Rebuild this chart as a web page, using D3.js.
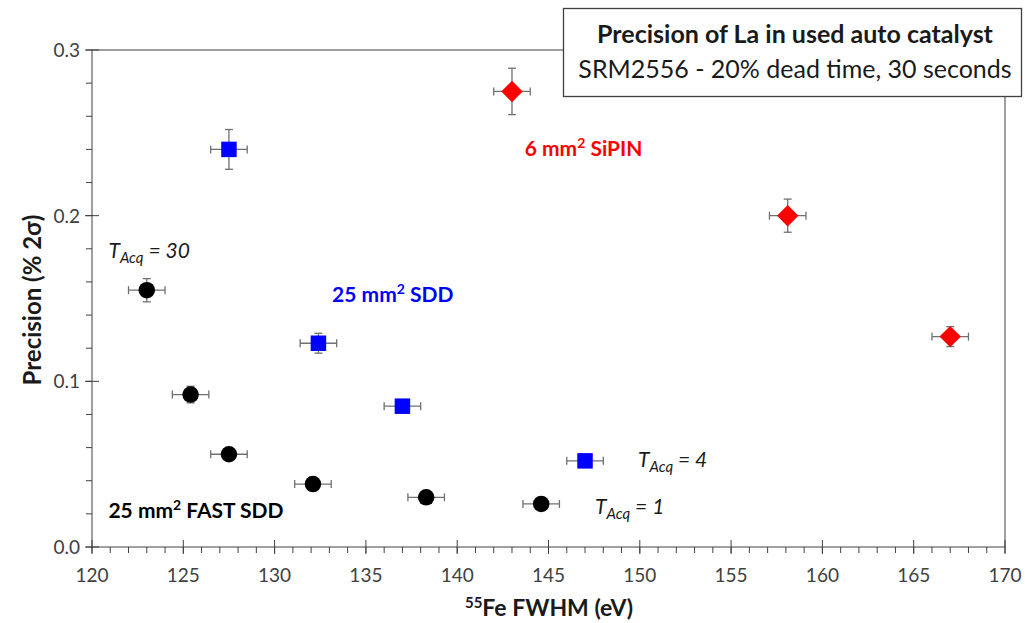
<!DOCTYPE html>
<html lang="en">
<head>
    <meta charset="UTF-8">
    <script src="https://d3js.org/d3.v7.min.js"></script>
    <title>Precision of La</title>
    <style>
        body { margin: 0; background: #fff; font-family: Lato, "Open Sans", sans-serif; }
        svg text { font-family: Lato, "Open Sans", sans-serif; }
    </style>
</head>
<body>
    <svg id="chart" width="1025" height="623"></svg>
    <script>
        // Data
        const fastSddX = [123.0, 125.4, 127.5, 132.1, 138.3, 144.6];
        const fastSddY = [0.155, 0.092, 0.056, 0.038, 0.030, 0.026];
        const fastSddErrX = [1.0, 1.0, 1.0, 1.0, 1.0, 1.0];
        const fastSddErrY = [0.007, 0.005, 0.003, 0.002, 0.002, 0.002];

        const sddX = [127.5, 132.4, 137.0, 147.0];
        const sddY = [0.240, 0.123, 0.085, 0.052];
        const sddErrX = [1.0, 1.0, 1.0, 1.0];
        const sddErrY = [0.012, 0.006, 0.003, 0.002];

        const sipinX = [143.0, 158.1, 167.0];
        const sipinY = [0.275, 0.200, 0.127];
        const sipinErrX = [1.0, 1.0, 1.0];
        const sipinErrY = [0.014, 0.010, 0.006];

        const xTicks = [120, 125, 130, 135, 140, 145, 150, 155, 160, 165, 170];
        const yTicks = [0.0, 0.1, 0.2, 0.3];

        const svg = d3.select("#chart");
        const plotL = 92, plotR = 1005, plotT = 50, plotB = 547;

        const x = d3.scaleLinear().domain([120, 170]).range([plotL, plotR]);
        const y = d3.scaleLinear().domain([0, 0.3]).range([plotB, plotT]);

        const axisColor = "#404040";

        // plot frame
        svg.append("rect")
            .attr("x", plotL).attr("y", plotT)
            .attr("width", plotR - plotL).attr("height", plotB - plotT)
            .attr("fill", "none").attr("stroke", axisColor).attr("stroke-width", 1);

        // x axis: major ticks cross, minor ticks below
        const xAxis = svg.append("g").attr("transform", `translate(0,${plotB})`);
        xAxis.selectAll("line.minor")
            .data(d3.range(120, 171, 1))
            .enter().append("line")
            .attr("x1", d => x(d)).attr("x2", d => x(d))
            .attr("y1", 0).attr("y2", 6)
            .attr("stroke", axisColor);
        xAxis.selectAll("line.major")
            .data(xTicks)
            .enter().append("line")
            .attr("x1", d => x(d)).attr("x2", d => x(d))
            .attr("y1", -7).attr("y2", 7)
            .attr("stroke", axisColor);
        xAxis.selectAll("text")
            .data(xTicks)
            .enter().append("text")
            .attr("x", d => x(d)).attr("y", 35)
            .attr("text-anchor", "middle")
            .attr("font-size", 19).attr("fill", axisColor)
            .text(d => d);

        // y axis: major ticks cross, minor ticks left
        const yAxis = svg.append("g").attr("transform", `translate(${plotL},0)`);
        yAxis.selectAll("line.minor")
            .data(d3.range(0, 16).map(i => i * 0.02))
            .enter().append("line")
            .attr("x1", -6).attr("x2", 0)
            .attr("y1", d => y(d)).attr("y2", d => y(d))
            .attr("stroke", axisColor);
        yAxis.selectAll("line.major")
            .data(yTicks)
            .enter().append("line")
            .attr("x1", -7).attr("x2", 7)
            .attr("y1", d => y(d)).attr("y2", d => y(d))
            .attr("stroke", axisColor);
        yAxis.selectAll("text")
            .data(yTicks)
            .enter().append("text")
            .attr("x", -12).attr("y", d => y(d) + 7)
            .attr("text-anchor", "end")
            .attr("font-size", 19).attr("fill", axisColor)
            .text(d => d.toFixed(1));

        // axis titles
        const xt = svg.append("text")
            .attr("x", 549).attr("y", 616)
            .attr("text-anchor", "middle")
            .attr("font-size", 23).attr("font-weight", "bold").attr("fill", "#1a1a1a");
        xt.append("tspan").attr("font-size", 15).attr("dy", -8).text("55");
        xt.append("tspan").attr("dy", 8).text("Fe FWHM (eV)");

        svg.append("text")
            .attr("transform", "translate(41,300) rotate(-90)")
            .attr("text-anchor", "middle")
            .attr("font-size", 24).attr("font-weight", "bold").attr("fill", "#1a1a1a")
            .text("Precision (% 2σ)");

        // error bars + markers
        const errColor = "#707070";
        const cap = 4;
        function drawSeries(xs, ys, exs, eys, shape, color) {
            const pts = xs.map((d, i) => ({ x: d, y: ys[i], ex: exs[i], ey: eys[i] }));
            const g = svg.append("g");
            const eb = g.selectAll("g.err").data(pts).enter().append("g")
                .attr("stroke", errColor).attr("stroke-width", 1.3);
            eb.append("line")
                .attr("x1", d => x(d.x - d.ex)).attr("x2", d => x(d.x + d.ex))
                .attr("y1", d => y(d.y)).attr("y2", d => y(d.y));
            eb.append("line")
                .attr("x1", d => x(d.x - d.ex)).attr("x2", d => x(d.x - d.ex))
                .attr("y1", d => y(d.y) - cap).attr("y2", d => y(d.y) + cap);
            eb.append("line")
                .attr("x1", d => x(d.x + d.ex)).attr("x2", d => x(d.x + d.ex))
                .attr("y1", d => y(d.y) - cap).attr("y2", d => y(d.y) + cap);
            eb.append("line")
                .attr("x1", d => x(d.x)).attr("x2", d => x(d.x))
                .attr("y1", d => y(d.y + d.ey)).attr("y2", d => y(d.y - d.ey));
            eb.append("line")
                .attr("x1", d => x(d.x) - cap).attr("x2", d => x(d.x) + cap)
                .attr("y1", d => y(d.y + d.ey)).attr("y2", d => y(d.y + d.ey));
            eb.append("line")
                .attr("x1", d => x(d.x) - cap).attr("x2", d => x(d.x) + cap)
                .attr("y1", d => y(d.y - d.ey)).attr("y2", d => y(d.y - d.ey));
            g.selectAll("path.mk").data(pts).enter().append("path")
                .attr("d", d3.symbol().type(shape.type).size(shape.size))
                .attr("transform", d => `translate(${x(d.x)},${y(d.y)})` + (shape.rotate ? " rotate(45)" : ""))
                .attr("fill", color);
        }
        drawSeries(fastSddX, fastSddY, fastSddErrX, fastSddErrY, { type: d3.symbolCircle, size: 215 }, "#000000");
        drawSeries(sddX, sddY, sddErrX, sddErrY, { type: d3.symbolSquare, size: 240 }, "#0000ff");
        drawSeries(sipinX, sipinY, sipinErrX, sipinErrY, { type: d3.symbolSquare, size: 230, rotate: true }, "#ff0000");

        // annotations
        function tacq(xv, yv, val) {
            const t = svg.append("text")
                .attr("x", x(xv)).attr("y", y(yv))
                .attr("font-size", 21).attr("font-style", "italic").attr("fill", "#1a1a1a");
            t.append("tspan").text("T");
            t.append("tspan").attr("font-size", 15).attr("dy", 5).text("Acq");
            t.append("tspan").attr("dy", -5).text(" = " + val);
        }
        tacq(120.9, 0.1745, 30);
        tacq(149.9, 0.0483, 4);
        tacq(147.55, 0.020, 1);

        function label(xv, yv, pre, post, color) {
            const t = svg.append("text")
                .attr("x", x(xv)).attr("y", y(yv))
                .attr("font-size", 21).attr("font-weight", "bold").attr("fill", color);
            t.append("tspan").text(pre);
            t.append("tspan").attr("font-size", 14).attr("dy", -8).text("2");
            t.append("tspan").attr("dy", 8).text(post);
        }
        label(133.15, 0.148, "25 mm", " SDD", "#0000ff");
        label(143.7, 0.236, "6 mm", " SiPIN", "#ff0000");
        label(120.9, 0.0175, "25 mm", " FAST SDD", "#000000");

        // title box
        svg.append("rect")
            .attr("x", 563.5).attr("y", 8.5).attr("width", 458).attr("height", 88)
            .attr("fill", "#fff").attr("stroke", "#404040").attr("stroke-width", 1.3);
        svg.append("text")
            .attr("x", 795).attr("y", 43).attr("text-anchor", "middle")
            .attr("font-size", 25).attr("font-weight", "bold").attr("fill", "#1a1a1a")
            .text("Precision of La in used auto catalyst");
        svg.append("text")
            .attr("x", 795).attr("y", 78).attr("text-anchor", "middle")
            .attr("font-size", 25).attr("fill", "#1a1a1a")
            .text("SRM2556 - 20% dead time, 30 seconds");
    </script>
</body>
</html>
